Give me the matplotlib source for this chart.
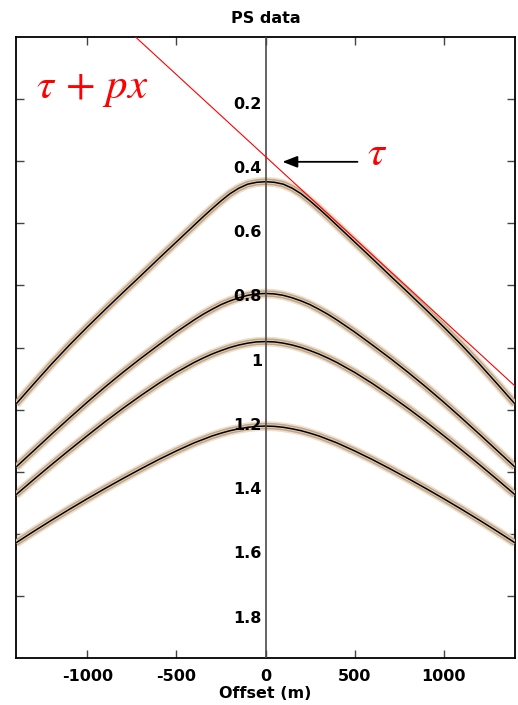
import numpy as np
import matplotlib
matplotlib.use('Agg')
import matplotlib.pyplot as plt

# offsets (m) for one side of the gather, events are symmetric about zero offset
offsets = [0, 50, 100, 150, 200, 250, 300, 350, 400, 500, 600, 700, 800, 900, 1000, 1100, 1200, 1300, 1400]
# PS traveltimes (s)
ev1 = [0.466, 0.468, 0.474, 0.487, 0.505, 0.528, 0.553, 0.579, 0.606, 0.660, 0.714, 0.769, 0.823, 0.878, 0.934, 0.992, 1.053, 1.117, 1.182]
ev2 = [0.826, 0.8275, 0.832, 0.840, 0.850, 0.862, 0.877, 0.893, 0.911, 0.950, 0.992, 1.035, 1.080, 1.127, 1.176, 1.227, 1.279, 1.332, 1.385]
ev3 = [0.981, 0.982, 0.986, 0.992, 1.000, 1.010, 1.021, 1.034, 1.048, 1.080, 1.116, 1.155, 1.196, 1.239, 1.284, 1.330, 1.377, 1.425, 1.474]
ev4 = [1.253, 1.254, 1.257, 1.262, 1.268, 1.276, 1.285, 1.296, 1.307, 1.333, 1.361, 1.391, 1.422, 1.454, 1.487, 1.521, 1.556, 1.592, 1.629]
events = [ev1, ev2, ev3, ev4]

# tangent line t = tau + p*x
tau = 0.385
p = 0.000528

xticks = [-1000, -500, 0, 500, 1000]
yticks = [0.2, 0.4, 0.6, 0.8, 1.0, 1.2, 1.4, 1.6, 1.8]
ylabels = ['0.2', '0.4', '0.6', '0.8', '1', '1.2', '1.4', '1.6', '1.8']

plt.rcParams['mathtext.fontset'] = 'stix'

fig = plt.figure(figsize=(5.18, 7.05), dpi=100)
ax = fig.add_axes([16/518, 47/705, 499/518, 621/705])

off = np.array(offsets, dtype=float)
x = np.concatenate([-off[:0:-1], off])
for ev in events:
    e = np.array(ev)
    t = np.concatenate([e[:0:-1], e])
    ax.plot(x, t, color='#ecdfcf', lw=7.0, solid_capstyle='butt', solid_joinstyle='round', zorder=2)
    ax.plot(x, t, color='#c2a382', lw=4.6, solid_capstyle='butt', solid_joinstyle='round', zorder=3)
    ax.plot(x, t, color='#ddcbb5', lw=2.6, solid_capstyle='butt', solid_joinstyle='round', zorder=4)
    ax.plot(x, t, color='black', lw=1.1, solid_joinstyle='round', zorder=5)

# center line
ax.axvline(0, color='#4a4a4a', lw=1.2, zorder=6)

# red tangent line
xl = np.array([-1400, 1400])
ax.plot(xl, tau + p * xl, color='red', lw=0.8, zorder=7)

ax.set_xlim(-1400, 1400)
ax.set_ylim(2.0, 0)
ax.set_xticks(xticks)
ax.set_xticklabels([str(v) for v in xticks], fontsize=11.5, fontweight='bold')
ax.set_yticks(yticks)
ax.tick_params(axis='both', direction='in', length=6, width=1, color='#444444',
               top=True, right=True, labelleft=False)
ax.tick_params(axis='x', pad=8)
for s in ax.spines.values():
    s.set_linewidth(1.3)

# time labels sit along the zero-offset line
for v, lab in zip(yticks, ylabels):
    ax.text(-20, v * 1.0346 + 0.0089, lab, ha='right', va='center',
            fontsize=11.5, fontweight='bold', zorder=8)

ax.set_xlabel('Offset (m)', fontsize=11.5, fontweight='bold', labelpad=1)
ax.set_title('PS data', fontsize=11.5, fontweight='bold', pad=10)

ax.text(-1290, 0.196, r'$\tau\,+\,px$', color='red', fontsize=31, ha='left', va='baseline')
ax.text(567, 0.412, r'$\tau$', color='red', fontsize=31, ha='left', va='baseline')
ax.annotate('', xy=(95, 0.402), xytext=(516, 0.402),
            arrowprops=dict(arrowstyle='-|>,head_length=0.9,head_width=0.35', color='black',
                            lw=1.3, shrinkA=0, shrinkB=0))

fig.savefig('out.png', dpi=100)
